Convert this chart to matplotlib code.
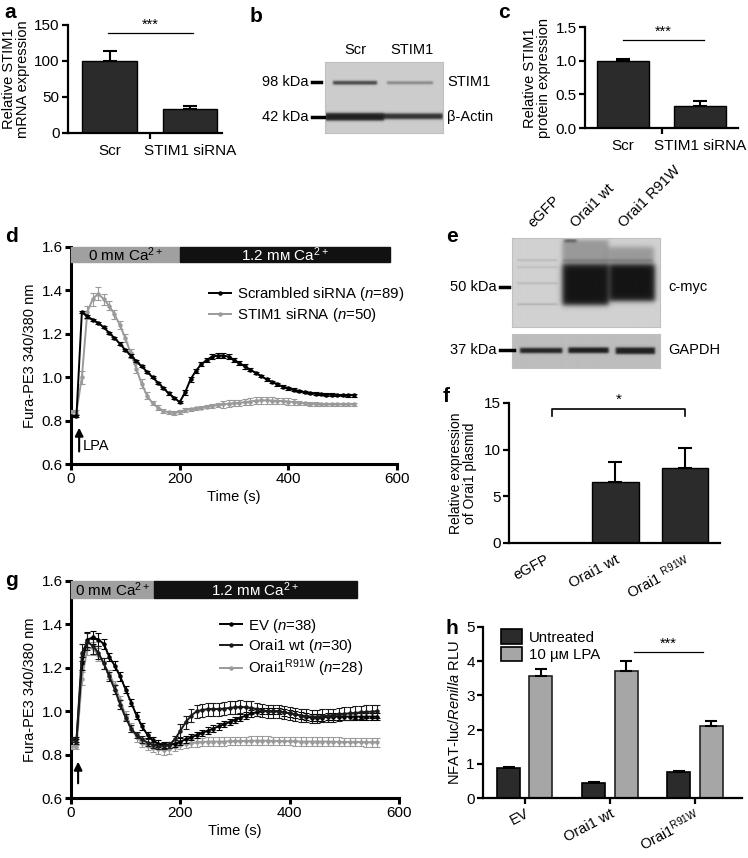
import numpy as np
import matplotlib
matplotlib.use('Agg')
import matplotlib.pyplot as plt
from matplotlib.patches import Rectangle, Patch
from matplotlib.lines import Line2D

plt.rcParams['font.family'] = ['Liberation Sans', 'DejaVu Sans']
plt.rcParams['mathtext.fontset'] = 'custom'
plt.rcParams['mathtext.rm'] = 'Liberation Sans'
plt.rcParams['mathtext.it'] = 'Liberation Sans:italic'
plt.rcParams['mathtext.bf'] = 'Liberation Sans:bold'

W, H = 748, 858
TICK = 11
LAB = 10.5

# ---- data ----
a_cats = ['Scr', 'STIM1 siRNA']
a_vals = [100, 33]
a_err = [14, 4]

c_cats = ['Scr', 'STIM1 siRNA']
c_vals = [1.0, 0.32]
c_err = [0.02, 0.08]

d_time = np.arange(0, 530, 10)
d_scr = [0.82, 0.82, 1.30, 1.28, 1.265, 1.25, 1.23, 1.205, 1.18, 1.155,
         1.125, 1.10, 1.075, 1.05, 1.025, 1.00, 0.975, 0.95, 0.925, 0.905,
         0.885, 0.93, 0.99, 1.03, 1.06, 1.08, 1.095, 1.10, 1.10, 1.095,
         1.08, 1.065, 1.05, 1.035, 1.02, 1.005, 0.99, 0.978, 0.967, 0.957,
         0.949, 0.942, 0.936, 0.931, 0.927, 0.924, 0.922, 0.92, 0.919, 0.918,
         0.918, 0.917, 0.917]
d_scr_err = [0.005] * 21 + [0.01] * 12 + [0.006] * 20
d_stim = [0.84, 0.84, 1.00, 1.30, 1.36, 1.385, 1.36, 1.33, 1.29, 1.24,
          1.18, 1.11, 1.04, 0.97, 0.915, 0.88, 0.86, 0.845, 0.838, 0.836,
          0.84, 0.848, 0.852, 0.856, 0.86, 0.864, 0.868, 0.872, 0.875, 0.878,
          0.88, 0.882, 0.885, 0.888, 0.892, 0.893, 0.893, 0.892, 0.891, 0.89,
          0.888, 0.885, 0.882, 0.879, 0.877, 0.876, 0.875, 0.875, 0.875, 0.875,
          0.875, 0.875, 0.875]
d_stim_err = [0.01, 0.01, 0.03, 0.03, 0.03, 0.03, 0.025, 0.02, 0.02, 0.02,
              0.02, 0.02, 0.02, 0.02, 0.015, 0.01, 0.01, 0.008, 0.008, 0.008] \
    + [0.008] * 8 + [0.015] * 14 + [0.008] * 11

g_time = np.arange(0, 570, 10)
g_ev = [0.87, 0.87, 1.22, 1.33, 1.34, 1.33, 1.31, 1.25, 1.21, 1.16,
        1.10, 1.04, 0.98, 0.93, 0.89, 0.865, 0.85, 0.845, 0.845, 0.85,
        0.86, 0.87, 0.88, 0.89, 0.90, 0.91, 0.92, 0.93, 0.94, 0.95,
        0.96, 0.97, 0.98, 0.99, 0.995, 1.0, 1.0, 1.0, 1.0, 0.995,
        0.99, 0.985, 0.98, 0.975, 0.97, 0.97, 0.97, 0.975, 0.975, 0.975,
        0.975, 0.975, 0.975, 0.975, 0.975, 0.975, 0.975]
g_ev_err = [0.01, 0.01, 0.03, 0.035, 0.03, 0.03, 0.025, 0.02, 0.02, 0.02] + [0.015] * 47
g_wt = [0.87, 0.86, 1.27, 1.32, 1.30, 1.27, 1.22, 1.16, 1.10, 1.03,
        0.97, 0.92, 0.89, 0.87, 0.855, 0.845, 0.84, 0.84, 0.845, 0.87,
        0.91, 0.95, 0.98, 1.0, 1.005, 1.01, 1.01, 1.01, 1.012, 1.015,
        1.018, 1.02, 1.018, 1.015, 1.01, 1.005, 1.0, 1.0, 0.998, 0.995,
        0.99, 0.985, 0.98, 0.978, 0.975, 0.975, 0.978, 0.98, 0.982, 0.985,
        0.988, 0.99, 0.992, 0.995, 0.997, 0.998, 1.0]
g_wt_err = [0.01, 0.01, 0.04, 0.04, 0.035, 0.03, 0.025, 0.02, 0.02, 0.02] + [0.015] * 10 + [0.03] * 37
g_r91w = [0.835, 0.835, 1.15, 1.29, 1.29, 1.26, 1.22, 1.17, 1.12, 1.05,
          0.98, 0.925, 0.88, 0.855, 0.84, 0.83, 0.825, 0.82, 0.825, 0.835,
          0.845, 0.85, 0.853, 0.856, 0.858, 0.86, 0.86, 0.86, 0.86, 0.862,
          0.862, 0.863, 0.863, 0.864, 0.864, 0.864, 0.864, 0.863, 0.863, 0.862,
          0.862, 0.861, 0.86, 0.86, 0.86, 0.86, 0.86, 0.86, 0.859, 0.859,
          0.858, 0.858, 0.858, 0.858, 0.857, 0.857, 0.857]
g_r91w_err = [0.01, 0.01, 0.03, 0.03, 0.03, 0.03, 0.025, 0.02, 0.02, 0.02] + [0.02] * 47

f_cats = ['eGFP', 'Orai1 wt', 'Orai1 $^{\\mathrm{R91W}}$']
f_vals = [0.0, 6.5, 8.0]
f_err = [0.0, 2.2, 2.2]

h_cats = ['EV', 'Orai1 wt', 'Orai1$^{\\mathrm{R91W}}$']
h_untreated = [0.88, 0.45, 0.77]
h_untreated_err = [0.04, 0.02, 0.03]
h_lpa = [3.58, 3.72, 2.10]
h_lpa_err = [0.20, 0.28, 0.14]

DARK = '#2b2b2b'
GREY = '#9a9a9a'

fig = plt.figure(figsize=(W / 100, H / 100), dpi=100)


def px_axes(l, t, r, b):
    return fig.add_axes([l / W, 1 - b / H, (r - l) / W, (b - t) / H])


def ftext(x, y, s, **kw):
    fig.text(x / W, 1 - y / H, s, **kw)


def fline(x0, x1, y, lw=2.5):
    fig.add_artist(Line2D([x0 / W, x1 / W], [1 - y / H, 1 - y / H], color='k', lw=lw))


def style(ax, lw=1.6):
    for s in ['top', 'right']:
        ax.spines[s].set_visible(False)
    ax.spines['left'].set_linewidth(lw)
    ax.spines['bottom'].set_linewidth(lw)
    ax.tick_params(direction='out', length=4, width=lw, labelsize=TICK, pad=2)


def sig(ax, x0, x1, y, txt, dy):
    ax.plot([x0, x1], [y, y], color='k', lw=0.9, clip_on=False)
    ax.text((x0 + x1) / 2, y + dy, txt, ha='center', va='bottom', fontsize=10.5)


def blot(ax, w, h, bands, bg=0.8):
    yy, xx = np.mgrid[0:h, 0:w] + 0.5
    img = np.full((h, w), bg)
    for x0, x1, y0, y1, dark, soft in bands:
        bx = 0.5 * (np.tanh((xx - x0) / soft) - np.tanh((xx - x1) / soft))
        by = 0.5 * (np.tanh((yy - y0) / soft) - np.tanh((yy - y1) / soft))
        img -= dark * bx * by
    ax.imshow(np.clip(img, 0, 1), cmap='gray', vmin=0, vmax=1, aspect='auto',
              extent=(0, w, h, 0), interpolation='bilinear')
    ax.set_xticks([])
    ax.set_yticks([])
    for s in ax.spines.values():
        s.set_color('#c0c0c0')
        s.set_linewidth(0.8)


def simple_bars(ax, cats, vals, err, ylim, yticks, xlim, ylabel):
    x = np.arange(len(cats))
    ax.bar(x, vals, width=0.68, color=DARK, edgecolor='k', lw=1)
    ax.errorbar(x, vals, yerr=[np.zeros(len(vals)), err], fmt='none', ecolor='k',
                capsize=5, elinewidth=1.5, capthick=1.5)
    style(ax)
    ax.set_ylim(*ylim)
    ax.set_yticks(yticks)
    ax.set_xlim(*xlim)
    ax.set_xticks(x)
    ax.set_xticklabels(cats, fontsize=TICK)
    ax.tick_params(axis='x', length=0, pad=8)
    ax.set_xticks([0.5], minor=True)
    ax.tick_params(axis='x', which='minor', length=4, width=1.6)
    ax.set_ylabel(ylabel, fontsize=LAB, labelpad=3, linespacing=1.0)


# ---- a ----
ax = px_axes(68, 25, 222, 133)
simple_bars(ax, a_cats, a_vals, a_err, (0, 150), [0, 50, 100, 150], (-0.52, 1.4),
            'Relative STIM1\nmRNA expression')
sig(ax, -0.02, 1.04, 139, '***', 1)

# ---- c ----
ax = px_axes(585, 27, 738, 128)
simple_bars(ax, c_cats, c_vals, c_err, (0, 1.5), [0, 0.5, 1.0, 1.5], (-0.5, 1.5),
            'Relative STIM1\nprotein expression')
ax.set_yticklabels(['0.0', '0.5', '1.0', '1.5'])
sig(ax, 0.0, 1.05, 1.31, '***', 0.01)

# ---- b blot ----
ax = px_axes(325, 62, 443, 133)
blot(ax, 118, 71, [
    (8, 52, 19, 22.5, 0.55, 1.2),
    (62, 108, 19.5, 22, 0.32, 1.2),
    (0, 59, 51, 58.5, 0.68, 1.4),
    (59, 118, 51.5, 57, 0.62, 1.4),
], bg=0.8)
ftext(355, 50, 'Scr', ha='center', va='center', fontsize=LAB)
ftext(412, 50, 'STIM1', ha='center', va='center', fontsize=LAB)
ftext(308, 82, '98 kDa', ha='right', va='center', fontsize=LAB)
ftext(308, 117, '42 kDa', ha='right', va='center', fontsize=LAB)
fline(312, 321, 82)
fline(312, 324, 117)
ftext(447, 82, 'STIM1', ha='left', va='center', fontsize=LAB)
ftext(447, 117, 'β-Actin', ha='left', va='center', fontsize=LAB)

# ---- d ----
ax = px_axes(71, 247, 397, 464)
style(ax, lw=2.2)
ax.errorbar(d_time, d_stim, yerr=d_stim_err, color=GREY, marker='o', ms=2.2, lw=1.4,
            capsize=2, elinewidth=0.8, capthick=0.8, zorder=3)
ax.errorbar(d_time, d_scr, yerr=d_scr_err, color='k', marker='o', ms=2.2, lw=1.4,
            capsize=2, elinewidth=0.8, capthick=0.8, zorder=4)
ax.set_xlim(0, 600)
ax.set_ylim(0.6, 1.6)
ax.set_xticks([0, 200, 400, 600])
ax.set_yticks([0.6, 0.8, 1.0, 1.2, 1.4, 1.6])
ax.set_xlabel('Time (s)', fontsize=LAB, labelpad=3)
ax.set_ylabel('Fura-PE3 340/380 nm', fontsize=LAB, labelpad=3)
ax.add_patch(Rectangle((0, 1.53), 200, 0.07, color='#a0a0a0', zorder=5, clip_on=False))
ax.add_patch(Rectangle((200, 1.53), 387, 0.07, color='#111111', zorder=5, clip_on=False))
ax.text(100, 1.565, '0 mм Ca$^{2+}$', ha='center', va='center', fontsize=11, zorder=6)
ax.text(393, 1.565, '1.2 mм Ca$^{2+}$', ha='center', va='center', fontsize=11,
        color='white', zorder=6)
ax.annotate('', xy=(15, 0.78), xytext=(15, 0.645),
            arrowprops=dict(arrowstyle='-|>', color='k', lw=1.5, mutation_scale=12))
ax.text(22, 0.685, 'LPA', ha='left', va='center', fontsize=LAB)
hd = [Line2D([], [], color='k', marker='o', ms=2.2, lw=1.4),
      Line2D([], [], color=GREY, marker='o', ms=2.2, lw=1.4)]
ax.legend(hd, ['Scrambled siRNA ($n$=89)', 'STIM1 siRNA ($n$=50)'], loc='upper left',
          bbox_to_anchor=(0.40, 0.86), frameon=False, fontsize=10.8, handlelength=1.5,
          labelspacing=0.2, borderpad=0, handletextpad=0.4)

# ---- g ----
ax = px_axes(71, 581, 399, 798)
style(ax, lw=2.2)
ax.errorbar(g_time, g_r91w, yerr=g_r91w_err, color=GREY, marker='o', ms=2.2, lw=1.4,
            capsize=2, elinewidth=0.8, capthick=0.8, zorder=3)
ax.errorbar(g_time, g_ev, yerr=g_ev_err, color='k', marker='o', ms=2.2, lw=1.4,
            capsize=2, elinewidth=0.8, capthick=0.8, zorder=4)
ax.errorbar(g_time, g_wt, yerr=g_wt_err, color='#1a1a1a', marker='o', ms=2.2, lw=1.4,
            capsize=2, elinewidth=0.8, capthick=0.8, zorder=4)
ax.set_xlim(0, 600)
ax.set_ylim(0.6, 1.6)
ax.set_xticks([0, 200, 400, 600])
ax.set_yticks([0.6, 0.8, 1.0, 1.2, 1.4, 1.6])
ax.set_xlabel('Time (s)', fontsize=LAB, labelpad=3)
ax.set_ylabel('Fura-PE3 340/380 nm', fontsize=LAB, labelpad=3)
ax.add_patch(Rectangle((0, 1.523), 152, 0.077, color='#a0a0a0', zorder=5, clip_on=False))
ax.add_patch(Rectangle((152, 1.523), 371, 0.077, color='#111111', zorder=5, clip_on=False))
ax.text(76, 1.562, '0 mм Ca$^{2+}$', ha='center', va='center', fontsize=11, zorder=6)
ax.text(337, 1.562, '1.2 mм Ca$^{2+}$', ha='center', va='center', fontsize=11,
        color='white', zorder=6)
ax.annotate('', xy=(13, 0.78), xytext=(13, 0.655),
            arrowprops=dict(arrowstyle='-|>', color='k', lw=1.5, mutation_scale=12))
hg = [Line2D([], [], color='k', marker='o', ms=2.2, lw=1.4),
      Line2D([], [], color='#1a1a1a', marker='o', ms=2.2, lw=1.4),
      Line2D([], [], color=GREY, marker='o', ms=2.2, lw=1.4)]
ax.legend(hg, ['EV ($n$=38)', 'Orai1 wt ($n$=30)', 'Orai1$^{\\mathrm{R91W}}$ ($n$=28)'],
          loc='upper left', bbox_to_anchor=(0.43, 0.87), frameon=False, fontsize=10.8,
          handlelength=1.5, labelspacing=0.15, borderpad=0, handletextpad=0.4)

# ---- e blots ----
ax = px_axes(512, 238, 660, 327)
blot(ax, 148, 89, [
    (5, 45, 21.5, 23, 0.12, 1.0), (5, 45, 28.5, 30, 0.10, 1.0), (5, 45, 44.5, 46, 0.13, 1.0),
    (5, 45, 65.5, 67, 0.16, 1.0), (50, 140, 21.5, 23, 0.12, 1.0),
    (50, 96, 2, 28, 0.22, 2.5), (52, 64, 1, 4, 0.35, 1.5), (96, 141, 9, 28, 0.22, 3.0),
    (50, 96, 27, 67, 0.74, 3.0), (97, 142, 27, 63, 0.74, 3.0),
], bg=0.82)
ax = px_axes(512, 334, 660, 368)
blot(ax, 148, 34, [
    (8, 50, 14, 19, 0.62, 1.3), (56, 96, 13.5, 19, 0.64, 1.3), (103, 142, 13.5, 20, 0.62, 1.3),
], bg=0.74)
for x, s in [(535, 'eGFP'), (578, 'Orai1 wt'), (626, 'Orai1 R91W')]:
    ftext(x, 230, s, rotation=45, ha='left', va='bottom', rotation_mode='anchor', fontsize=LAB)
ftext(497, 287, '50 kDa', ha='right', va='center', fontsize=LAB)
ftext(497, 350, '37 kDa', ha='right', va='center', fontsize=LAB)
fline(500, 509, 287)
fline(500, 514, 350)
ftext(668, 287, 'c-myc', ha='left', va='center', fontsize=LAB)
ftext(668, 350, 'GAPDH', ha='left', va='center', fontsize=LAB)

# ---- f ----
ax = px_axes(509, 403, 720, 543)
x = np.arange(len(f_cats))
ax.bar(x, f_vals, width=0.67, color=DARK, edgecolor='k', lw=1)
ax.errorbar(x[1:], f_vals[1:], yerr=[np.zeros(2), f_err[1:]], fmt='none', ecolor='k',
            capsize=5, elinewidth=1.5, capthick=1.5)
style(ax)
ax.set_ylim(0, 15)
ax.set_yticks([0, 5, 10, 15])
ax.set_xlim(-0.52, 2.5)
ax.set_xticks(x)
ax.set_xticklabels(f_cats, rotation=28, ha='right', rotation_mode='anchor', fontsize=10.5)
ax.tick_params(axis='x', length=0, pad=7)
ax.set_ylabel('Relative expression\nof Orai1 plasmid', fontsize=10, labelpad=5, linespacing=1.0)
ax.plot([0.1, 0.1, 2.0, 2.0], [13.6, 14.4, 14.4, 13.6], color='k', lw=1.2, clip_on=False)
ax.text(1.05, 14.6, '*', ha='center', va='bottom', fontsize=11)

# ---- h ----
ax = px_axes(483, 627, 742, 798)
x = np.arange(len(h_cats))
ax.bar(x - 0.19, h_untreated, width=0.27, color=DARK, edgecolor='k', lw=1.2)
ax.bar(x + 0.19, h_lpa, width=0.27, color='#a6a6a6', edgecolor='#222222', lw=1.2)
ax.errorbar(x - 0.19, h_untreated, yerr=[np.zeros(3), h_untreated_err], fmt='none',
            ecolor='k', capsize=4, elinewidth=1.5, capthick=1.5)
ax.errorbar(x + 0.19, h_lpa, yerr=[np.zeros(3), h_lpa_err], fmt='none',
            ecolor='k', capsize=4, elinewidth=1.5, capthick=1.5)
style(ax)
ax.set_ylim(0, 5)
ax.set_yticks([0, 1, 2, 3, 4, 5])
ax.set_xlim(-0.49, 2.55)
ax.set_xticks(x)
ax.set_xticklabels(h_cats, rotation=28, ha='right', rotation_mode='anchor', fontsize=10.5)
ax.set_ylabel('NFAT-luc/$\\mathit{Renilla}$ RLU', fontsize=LAB, labelpad=3)
sig(ax, 1.28, 2.09, 4.27, '***', 0.03)
hh = [Patch(facecolor=DARK, edgecolor='k', lw=1.2),
      Patch(facecolor='#a6a6a6', edgecolor='k', lw=1.2)]
ax.legend(hh, ['Untreated', '10 µм LPA'], loc='upper left', bbox_to_anchor=(0.04, 1.03),
          frameon=False, fontsize=10.8, handlelength=1.4, handleheight=1.1,
          labelspacing=0.15, borderpad=0, handletextpad=0.5)

# ---- panel letters ----
for s, px, py in [('a', 4, 12), ('b', 250, 16), ('c', 498, 13), ('d', 5, 236),
                  ('e', 446, 236), ('f', 443, 397), ('g', 5, 580), ('h', 445, 628)]:
    ftext(px, py, s, ha='left', va='center', fontsize=15, fontweight='bold')

fig.savefig('out.png', dpi=100)
